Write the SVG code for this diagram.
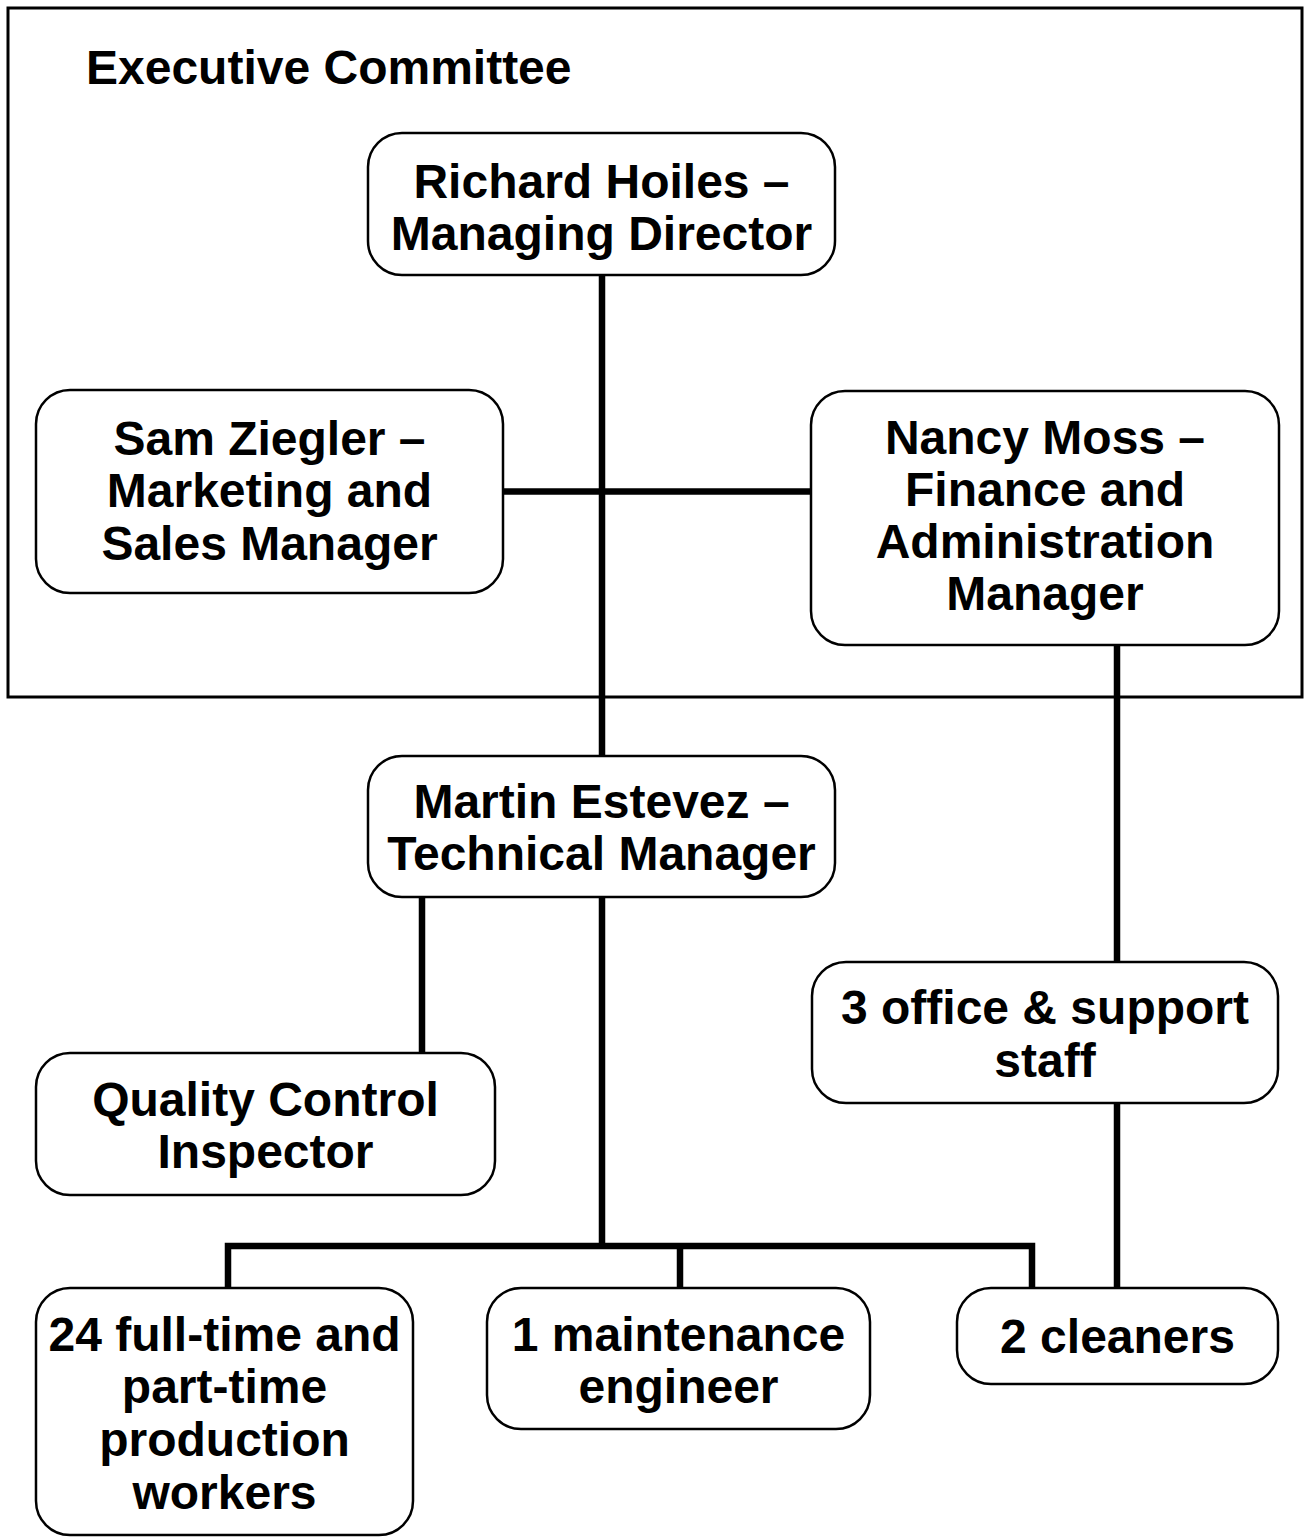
<svg xmlns="http://www.w3.org/2000/svg" width="1304" height="1537" viewBox="0 0 1304 1537">
<style>
.box{fill:#fff;stroke:#000;stroke-width:2.5}
.t{font-family:"Liberation Sans",Arial,Helvetica,sans-serif;font-weight:bold;font-size:48px;fill:#000;text-anchor:middle}
.c{stroke:#000;stroke-width:6.5;fill:none;stroke-linecap:butt}
</style>
<rect width="1304" height="1537" fill="#fff"/>
<g id="executive-committee">
<rect x="8" y="8" width="1294" height="689" fill="none" stroke="#000" stroke-width="3"/>
<text class="t" x="86" y="84" style="text-anchor:start">Executive Committee</text>
</g>
<g id="connectors">
<line class="c" x1="602" y1="275" x2="602" y2="756"/>
<line class="c" x1="503" y1="491.5" x2="811" y2="491.5"/>
<line class="c" x1="1117" y1="645" x2="1117" y2="962"/>
<line class="c" x1="1117" y1="1103" x2="1117" y2="1288"/>
<line class="c" x1="422" y1="897" x2="422" y2="1053"/>
<line class="c" x1="602" y1="897" x2="602" y2="1246"/>
<polyline class="c" points="228,1288 228,1246 1032,1246 1032,1288"/>
<line class="c" x1="680" y1="1246" x2="680" y2="1288"/>
</g>
<g id="richard-hoiles">
<rect class="box" x="368" y="133" width="467" height="142" rx="34"/>
<text class="t" x="601.5" y="198">Richard Hoiles –</text>
<text class="t" x="601.5" y="250">Managing Director</text>
</g>
<g id="sam-ziegler">
<rect class="box" x="36" y="390" width="467" height="203" rx="34"/>
<text class="t" x="269.5" y="455">Sam Ziegler –</text>
<text class="t" x="269.5" y="507">Marketing and</text>
<text class="t" x="269.5" y="560">Sales Manager</text>
</g>
<g id="nancy-moss">
<rect class="box" x="811" y="391" width="468" height="254" rx="34"/>
<text class="t" x="1045" y="454">Nancy Moss –</text>
<text class="t" x="1045" y="506">Finance and</text>
<text class="t" x="1045" y="558">Administration</text>
<text class="t" x="1045" y="610">Manager</text>
</g>
<g id="martin-estevez">
<rect class="box" x="368" y="756" width="467" height="141" rx="34"/>
<text class="t" x="601.5" y="818">Martin Estevez –</text>
<text class="t" x="601.5" y="870">Technical Manager</text>
</g>
<g id="quality-control">
<rect class="box" x="36" y="1053" width="459" height="142" rx="34"/>
<text class="t" x="265.5" y="1116">Quality Control</text>
<text class="t" x="265.5" y="1168">Inspector</text>
</g>
<g id="office-staff">
<rect class="box" x="812" y="962" width="466" height="141" rx="34"/>
<text class="t" x="1045" y="1024">3 office &amp; support</text>
<text class="t" x="1045" y="1077">staff</text>
</g>
<g id="production-workers">
<rect class="box" x="36" y="1288" width="377" height="247" rx="34"/>
<text class="t" x="224.5" y="1351">24 full-time and</text>
<text class="t" x="224.5" y="1403">part-time</text>
<text class="t" x="224.5" y="1456">production</text>
<text class="t" x="224.5" y="1509">workers</text>
</g>
<g id="maintenance-engineer">
<rect class="box" x="487" y="1288" width="383" height="141" rx="34"/>
<text class="t" x="678.5" y="1351">1 maintenance</text>
<text class="t" x="678.5" y="1403">engineer</text>
</g>
<g id="cleaners">
<rect class="box" x="957" y="1288" width="321" height="96" rx="34"/>
<text class="t" x="1117.5" y="1353">2 cleaners</text>
</g>
</svg>
